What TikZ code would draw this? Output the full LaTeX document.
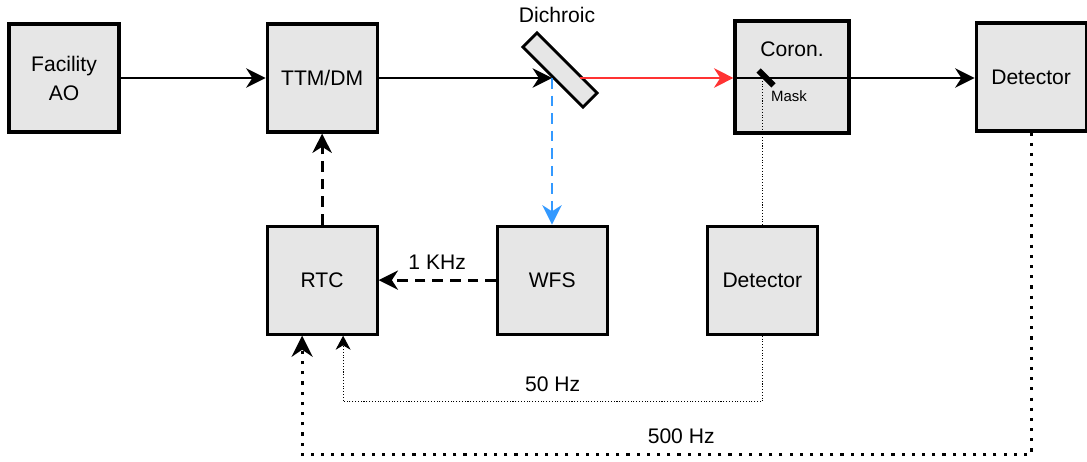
\documentclass[tikz,border=0pt]{standalone}
\usepackage{fontspec}
\setmainfont{Liberation Sans}
\usetikzlibrary{positioning,arrows.meta}

\definecolor{boxgray}{RGB}{230,230,230}
\definecolor{beamred}{RGB}{255,51,51}
\definecolor{wfsblue}{RGB}{51,153,255}

\begin{document}
\begin{tikzpicture}[
    x=0.02cm, y=-0.02cm, % one unit = one pixel of the sketch
    font=\fontsize{12}{16.5}\selectfont,
    node distance=2.9cm and 2.9cm,
    block/.style={
        rectangle,
        draw,
        fill=boxgray,
        minimum width=2.2cm,
        minimum height=2.16cm,
        align=center,
        line width=1.8pt
    },
    beam/.style={
        draw,
        -{Stealth[length=11pt,width=11pt,inset=3.5pt]},
        line width=1.7pt
    },
    ctrl/.style={
        draw,
        -{Stealth[length=11pt,width=11pt,inset=3.5pt]},
        line width=1.6pt,
        dash pattern=on 6pt off 4pt
    },
    slowloop/.style={
        draw,
        -{Stealth[length=8pt,width=8.5pt,inset=2.5pt]},
        line width=0.6pt,
        densely dotted
    },
    fastloop/.style={
        draw,
        -{Stealth[length=12pt,width=12pt,inset=4pt]},
        line width=1.8pt,
        dash pattern=on 1.8pt off 4pt
    }
]
    \useasboundingbox (0,0) rectangle (1087,462);

    % --- Nodes ---

    % Top Row (optical path)
    \node [block] (ao) at (64,78) {Facility\\AO};
    \node [block, right=of ao] (ttm) {TTM/DM};
    \node [draw, fill=boxgray, line width=1.6pt, minimum width=1.7cm,
           minimum height=0.4cm, inner sep=0, rotate=-45] (dich) at (560,70) {};
    \node (dichlbl) at (557,15) {Dichroic};
    \node [block, minimum width=2.28cm, minimum height=2.24cm,
           label={[anchor=center, yshift=-0.6cm]north:Coron.}] (coron) at (792,77) {};
    \node [block, right=2.48cm of coron] (det) {Detector};

    % Bottom Row (control loop)
    \node [block, below=1.82cm of ttm] (rtc) {RTC};
    \node [block, right=2.34cm of rtc] (wfs) {WFS};
    \node [block, right=1.94cm of wfs] (det2) {Detector};

    % beam points on the dichroic
    \coordinate (hit) at (552,78);
    \coordinate (exit) at (580,78);

    % --- Connections ---
    \path [beam] (ao) -- (ttm);
    \path [beam] (ttm.east |- hit) -- (hit);
    \path [beam, beamred] (exit) -- (coron.west |- exit);
    \path [beam] (coron.west |- exit) -- (det.west |- exit);
    \path [ctrl, wfsblue] (hit) -- (hit |- wfs.north);
    \path [ctrl] (wfs) -- node[above, yshift=2pt] {1 KHz} (rtc);
    \path [ctrl] (rtc) -- (ttm);

    % mask pick-off to the second detector
    \draw [line width=0.6pt, densely dotted] (det2 |- exit) -- (det2.north);
    \node [fill=black, minimum width=0.42cm, minimum height=0.12cm,
           inner sep=0, rotate=-45] (mask) at (766,78) {};
    \node [font=\fontsize{8.5}{10}\selectfont] (masklbl) at (789,96) {Mask};

    % slow and fast loops back to the RTC
    \path [slowloop] (det2.south) -- ++(0,66)
        -| node[pos=0.25, above, yshift=2pt] {50 Hz} ([xshift=0.42cm]rtc.south);
    \path [fastloop] (det.south) -- ++(0,322)
        -| node[pos=0.24, above, yshift=2pt] {500 Hz} ([xshift=-0.4cm]rtc.south);

\end{tikzpicture}
\end{document}
